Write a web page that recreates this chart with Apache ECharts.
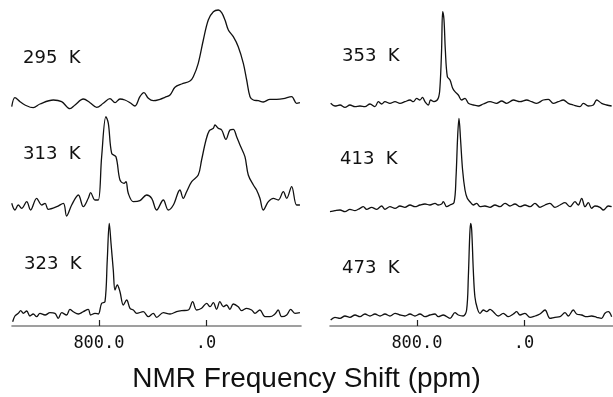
<!DOCTYPE html>
<html><head><meta charset="utf-8">
<script src="https://cdn.jsdelivr.net/npm/echarts@6/dist/echarts.min.js"></script>
<style>html,body{margin:0;padding:0;background:#fff}#c{width:613px;height:397px}</style>
</head><body><div id="c"></div>
<script>
// Temperature labels
const temps = ['295 K','313 K','323 K','353 K','413 K','473 K'];
// x-axis ticks (ppm)
const tickValues = [0, 800];
const xMin = -710, xMax = 1450;
// Spectra: [shift (ppm), intensity (a.u.)]
const s295 = [[1452,13.3],[1428,22.3],[1390,18.3],[1353,15],[1291,12.3],[1241,16],[1141,20],[1079,18.3],[1017,11.3],[979,15],[917,21],[867,17.3],[817,12.7],[768,16.7],[718,21.3],[680,17.3],[643,21],[606,20],[568,17.3],[531,14],[494,23.3],[464,27.3],[431,21.7],[394,19.3],[344,20.7],[307,22.7],[269,25],[232,32.7],[182,36],[120,39],[95,43.3],[58,56.7],[20,80],[-17,100],[-55,108.3],[-92,110],[-117,107.3],[-142,100],[-167,90],[-204,83.3],[-241,73.3],[-279,56.7],[-304,40],[-329,23.3],[-354,20],[-391,19.3],[-428,18],[-478,20.7],[-528,20.7],[-578,21.3],[-640,23.3],[-677,16.7],[-702,17.3]];
const s313 = [[1452,16.7],[1428,10],[1403,15],[1378,11.7],[1340,18.3],[1311,10],[1266,21.7],[1228,15],[1203,16.7],[1179,10.7],[1116,13.3],[1066,16.7],[1042,4],[1004,15],[954,25],[917,13.3],[880,21.7],[862,27.3],[830,20],[805,20],[780,63.3],[748,103.3],[730,96.7],[705,66.7],[673,63.3],[643,40],[613,36.7],[598,38.3],[581,26.7],[543,18.3],[494,19.3],[444,25],[406,21.7],[369,10],[319,20],[282,10],[244,15],[195,30],[170,21.7],[145,28.3],[107,38.3],[58,45],[33,60],[0,80],[-25,89.3],[-55,91.7],[-67,95],[-92,91.7],[-117,90],[-149,80.7],[-179,90],[-204,90.7],[-229,83.3],[-254,75],[-291,63.3],[-316,45],[-354,35],[-378,30],[-403,21.7],[-428,10],[-466,18.3],[-503,21.7],[-540,20],[-578,28.3],[-603,21.7],[-640,33.3],[-677,15],[-702,15]];
const s323 = [[1445,4.3],[1428,10],[1403,12.7],[1385,15.3],[1365,12.7],[1340,15],[1316,10],[1291,12],[1266,9.3],[1241,12.7],[1203,11],[1166,13.3],[1129,12.7],[1104,7.7],[1079,13.3],[1042,11],[1017,16.7],[992,14.3],[954,12],[917,14.3],[880,16.7],[862,11],[830,12.7],[805,12],[780,22.7],[755,24.3],[738,66],[723,102.7],[710,82.7],[693,56],[680,36],[663,41],[643,34.3],[618,21],[593,26],[568,17.7],[543,16],[518,12.7],[469,14.3],[431,9.3],[394,12.7],[369,8.7],[319,13.3],[269,12],[220,14.3],[182,15.3],[132,16],[100,24.3],[70,16],[33,17.7],[-5,22.7],[-30,19.3],[-55,23.3],[-79,16.7],[-104,24.3],[-129,19.3],[-154,21],[-179,16.7],[-204,22],[-241,19.3],[-266,15.3],[-304,17.7],[-341,16],[-366,12.7],[-403,16],[-441,9.3],[-478,9.3],[-515,12],[-540,16],[-565,9.3],[-603,11],[-633,16.7],[-665,12.7],[-702,13.3]];
const s353 = [[1445,16.7],[1413,14],[1375,15],[1338,12.7],[1301,15],[1263,13.3],[1226,14],[1189,13.3],[1151,16],[1114,13.3],[1089,18.3],[1064,16],[1039,18.3],[1002,16.7],[964,18.3],[927,16.7],[890,18.3],[852,20],[827,18.3],[802,21.7],[778,20],[758,22.7],[740,18.3],[715,15],[698,20],[673,18.3],[641,21.7],[628,33.3],[616,70],[608,108.3],[598,100],[588,70],[573,43.3],[553,40],[533,31.7],[516,28.3],[491,25],[466,20],[441,21.7],[416,16.7],[379,15],[342,14],[304,16],[254,18.3],[205,16.7],[167,19],[130,16.7],[80,20],[30,18.3],[-20,20],[-57,18.3],[-94,16.7],[-144,20],[-182,20.7],[-219,16.7],[-256,18.3],[-294,20],[-331,16.7],[-368,15],[-418,13.3],[-443,16.7],[-481,14],[-518,15],[-543,20],[-580,16.7],[-618,15],[-655,14]];
const s413 = [[1450,8.3],[1413,9.3],[1375,10],[1338,8.3],[1301,10.7],[1263,9.3],[1226,11.7],[1201,13.3],[1176,10.7],[1139,12.7],[1101,10.7],[1064,14],[1039,10.7],[1002,13.3],[964,11.7],[927,14],[890,12.7],[852,15],[815,13.3],[778,15],[740,16],[703,15],[665,16.7],[641,15],[616,16],[603,18.3],[578,13.3],[553,15],[523,17.3],[508,43.3],[496,83.3],[486,101.7],[474,80],[459,50],[441,30],[424,21.7],[404,18.3],[379,15],[354,16.7],[329,13.3],[292,14],[254,12.7],[217,15],[180,13.3],[142,16.7],[105,14],[68,16],[30,13.3],[-7,15],[-45,13.3],[-82,16.7],[-119,12.7],[-157,15],[-194,16.7],[-231,12.7],[-269,15],[-306,17.3],[-344,13.3],[-381,18.3],[-406,15],[-431,21.7],[-456,13.3],[-481,17.3],[-505,11.7],[-530,14],[-568,12.7],[-593,10],[-630,14],[-655,13.3]];
const s473 = [[1445,6],[1413,8.7],[1375,7.7],[1338,10],[1301,8.7],[1263,11],[1226,9.3],[1189,12],[1151,10],[1114,12],[1076,10],[1039,12],[1002,10],[964,12.7],[927,11],[890,10],[852,12],[815,10],[778,12],[740,9.3],[703,11],[665,12],[641,9.3],[603,11],[553,7.7],[516,13.3],[491,11],[454,10],[429,16],[416,49.3],[406,89.3],[399,102.7],[391,96],[379,56],[367,29.3],[349,17.7],[329,12.7],[304,16],[279,14.3],[254,16.7],[230,14.3],[192,10],[155,12.7],[117,9.3],[80,12],[55,14.3],[30,11],[-7,12.7],[-45,8.7],[-82,10],[-119,12],[-157,16],[-194,7.7],[-231,8.7],[-269,9.3],[-306,13.3],[-331,10],[-368,16],[-393,12],[-431,11],[-468,9.3],[-505,10],[-543,8.7],[-580,7.7],[-605,12.7],[-630,14.3],[-655,9.3]];

const spectra = [s295, s313, s323, s353, s413, s473];
const rows = [{top:0,h:120},{top:110,h:110},{top:210,h:116}];
const cols = [12, 330];
const labelPos = [[23,57],[23,153],[24,263],[342,55],[340,158],[342,267]];

const grid=[], xAxis=[], yAxis=[], series=[], graphic=[];
for (let i=0;i<6;i++){
  const c = Math.floor(i/3), r = i%3;
  grid.push({left:cols[c], top:rows[r].top, width:289, height:rows[r].h, containLabel:false, outerBoundsMode:'none'});
  const bottom = r===2;
  xAxis.push({type:'value', gridIndex:i, min:xMin, max:xMax, inverse:true, show:bottom,
    axisLine:{show:true, lineStyle:{color:'#808080', width:1.6}},
    axisTick:{show:true, inside:true, length:6, customValues:tickValues, lineStyle:{color:'#222', width:1.2}},
    axisLabel:{show:true, customValues:tickValues, margin:9,
      formatter:v=> v===0 ? '.0' : v.toFixed(1),
      fontFamily:'DejaVu Sans Mono', fontSize:17, color:'#111'},
    splitLine:{show:false}});
  yAxis.push({type:'value', gridIndex:i, min:0, max:rows[r].h, show:false, splitLine:{show:false}});
  series.push({type:'line', xAxisIndex:i, yAxisIndex:i, data:spectra[i], smooth:0.35,
    showSymbol:false, symbol:'none', lineStyle:{color:'#111', width:1.3}, animation:false, silent:true});
  graphic.push({type:'text', left:labelPos[i][0], top:labelPos[i][1]-8,
    style:{text:temps[i].replace(' ','  '), fontFamily:'DejaVu Sans', fontSize:18, fill:'#111'}});
}

const chart = echarts.init(document.getElementById('c'), null, {renderer:'canvas'});
chart.setOption({
  animation:false,
  backgroundColor:'#fff',
  title:{text:'NMR Frequency Shift (ppm)', left:'center', top:360,
    textStyle:{fontFamily:'Liberation Sans', fontSize:28, fontWeight:'normal', color:'#111'}},
  grid, xAxis, yAxis, series, graphic
});
</script></body></html>
